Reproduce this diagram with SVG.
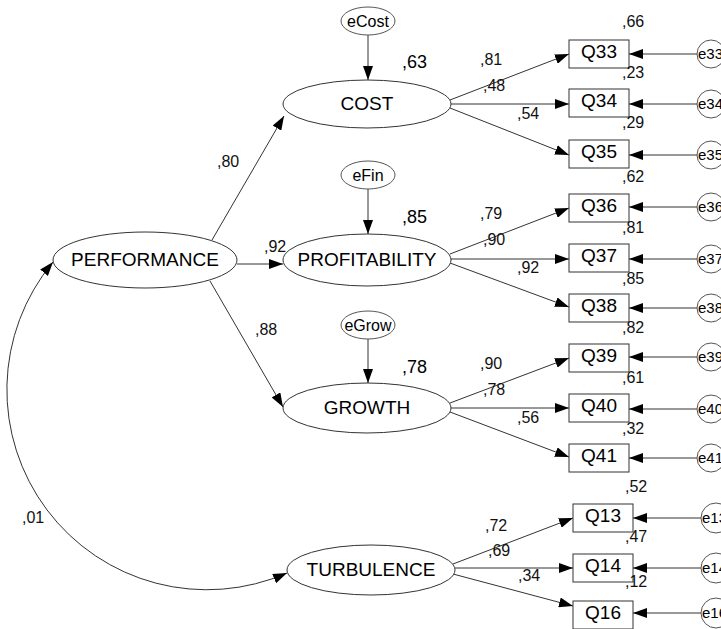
<svg xmlns="http://www.w3.org/2000/svg" width="721" height="629" viewBox="0 0 721 629">
  <style>
    .lat { fill: #fff; stroke: #333; stroke-width: 1; }
    .obs { fill: #fff; stroke: #333; stroke-width: 1; }
    .err { fill: #fff; stroke: #555; stroke-width: 1; }
    .lbl { font-family: "Liberation Sans", Arial, sans-serif; font-size: 19px; fill: #000; text-anchor: middle; }
    .elbl { font-family: "Liberation Sans", Arial, sans-serif; font-size: 16px; fill: #000; text-anchor: middle; }
    .rlbl { font-family: "Liberation Sans", Arial, sans-serif; font-size: 15px; fill: #000; }
    .coef { font-family: "Liberation Sans", Arial, sans-serif; font-size: 16px; fill: #111; }
    .r2 { font-family: "Liberation Sans", Arial, sans-serif; font-size: 18px; fill: #000; }
    .path { fill: none; stroke: #333; stroke-width: 1; marker-end: url(#arr); }
    .cov { fill: none; stroke: #333; stroke-width: 1; marker-start: url(#arr); marker-end: url(#arr); }
  </style>
  <defs>
    <marker id="arr" markerUnits="userSpaceOnUse" markerWidth="14" markerHeight="10" refX="14" refY="5" orient="auto-start-reverse">
      <path d="M0,0 L14,5 L0,10 z" fill="#000"/>
    </marker>
  </defs>
  <rect width="721" height="629" fill="#fff"/>

  <g id="connectors">
    <!-- structural paths -->
    <line class="path" x1="212" y1="240" x2="284" y2="116"/>
    <line class="path" x1="237" y1="264" x2="283" y2="264"/>
    <line class="path" x1="210" y1="281" x2="283" y2="407"/>
    <path class="cov" d="M53,262 A200,200 0 0 0 287,573"/>
    <!-- disturbances -->
    <line class="path" x1="368" y1="35" x2="368" y2="80"/>
    <line class="path" x1="368" y1="189" x2="368" y2="234"/>
    <line class="path" x1="368" y1="339" x2="368" y2="383"/>
    <!-- COST indicators -->
    <line class="path" x1="450" y1="100" x2="569" y2="54"/>
    <line class="path" x1="451" y1="104" x2="569" y2="104"/>
    <line class="path" x1="450" y1="108" x2="569" y2="155"/>
    <!-- PROFITABILITY indicators -->
    <line class="path" x1="450" y1="254" x2="569" y2="208"/>
    <line class="path" x1="451" y1="259" x2="569" y2="259"/>
    <line class="path" x1="450" y1="263" x2="569" y2="307"/>
    <!-- GROWTH indicators -->
    <line class="path" x1="450" y1="403" x2="569" y2="358"/>
    <line class="path" x1="451" y1="408" x2="569" y2="408"/>
    <line class="path" x1="450" y1="412" x2="569" y2="457"/>
    <!-- TURBULENCE indicators -->
    <line class="path" x1="453" y1="564" x2="573" y2="518"/>
    <line class="path" x1="455" y1="568" x2="573" y2="568"/>
    <line class="path" x1="453" y1="574" x2="573" y2="606"/>
    <!-- measurement errors -->
    <line class="path" x1="697" y1="54" x2="629" y2="54"/>
    <line class="path" x1="697" y1="104" x2="629" y2="104"/>
    <line class="path" x1="697" y1="155" x2="629" y2="155"/>
    <line class="path" x1="697" y1="207" x2="629" y2="207"/>
    <line class="path" x1="697" y1="259" x2="629" y2="259"/>
    <line class="path" x1="697" y1="308" x2="629" y2="308"/>
    <line class="path" x1="697" y1="357" x2="629" y2="357"/>
    <line class="path" x1="697" y1="409" x2="629" y2="409"/>
    <line class="path" x1="697" y1="458" x2="629" y2="458"/>
    <line class="path" x1="702" y1="518" x2="633" y2="518"/>
    <line class="path" x1="702" y1="568" x2="633" y2="568"/>
    <line class="path" x1="702" y1="613" x2="633" y2="613"/>
  </g>

  <!-- latent constructs -->
  <g id="PERFORMANCE"><ellipse class="lat" cx="145" cy="260" rx="92" ry="28"/><text class="lbl" x="145" y="266">PERFORMANCE</text></g>
  <g id="COST"><ellipse class="lat" cx="367" cy="104" rx="84" ry="24"/><text class="lbl" x="367" y="110">COST</text></g>
  <g id="PROFITABILITY"><ellipse class="lat" cx="367" cy="260" rx="84" ry="26"/><text class="lbl" x="367" y="266">PROFITABILITY</text></g>
  <g id="GROWTH"><ellipse class="lat" cx="367" cy="408" rx="84" ry="25"/><text class="lbl" x="367" y="414">GROWTH</text></g>
  <g id="TURBULENCE"><ellipse class="lat" cx="371" cy="570" rx="84" ry="25"/><text class="lbl" x="371" y="576">TURBULENCE</text></g>

  <!-- disturbance terms -->
  <g id="eCost"><ellipse class="err" cx="368" cy="21" rx="27" ry="14"/><text class="elbl" x="368" y="27">eCost</text></g>
  <g id="eFin"><ellipse class="err" cx="368" cy="175" rx="27" ry="14"/><text class="elbl" x="368" y="181">eFin</text></g>
  <g id="eGrow"><ellipse class="err" cx="368" cy="325" rx="27" ry="14"/><text class="elbl" x="368" y="331">eGrow</text></g>

  <!-- observed indicators -->
  <g id="Q33"><rect class="obs" x="569" y="40" width="60" height="28"/><text class="lbl" x="599" y="58">Q33</text></g>
  <g id="Q34"><rect class="obs" x="569" y="89" width="60" height="28"/><text class="lbl" x="599" y="107">Q34</text></g>
  <g id="Q35"><rect class="obs" x="569" y="140" width="60" height="28"/><text class="lbl" x="599" y="158">Q35</text></g>
  <g id="Q36"><rect class="obs" x="569" y="194" width="60" height="28"/><text class="lbl" x="599" y="212">Q36</text></g>
  <g id="Q37"><rect class="obs" x="569" y="244" width="60" height="28"/><text class="lbl" x="599" y="262">Q37</text></g>
  <g id="Q38"><rect class="obs" x="569" y="294" width="60" height="28"/><text class="lbl" x="599" y="312">Q38</text></g>
  <g id="Q39"><rect class="obs" x="569" y="344" width="60" height="28"/><text class="lbl" x="599" y="362">Q39</text></g>
  <g id="Q40"><rect class="obs" x="569" y="394" width="60" height="28"/><text class="lbl" x="599" y="412">Q40</text></g>
  <g id="Q41"><rect class="obs" x="569" y="444" width="60" height="28"/><text class="lbl" x="599" y="462">Q41</text></g>
  <g id="Q13"><rect class="obs" x="573" y="504" width="60" height="28"/><text class="lbl" x="603" y="522">Q13</text></g>
  <g id="Q14"><rect class="obs" x="573" y="554" width="60" height="28"/><text class="lbl" x="603" y="572">Q14</text></g>
  <g id="Q16"><rect class="obs" x="573" y="601" width="60" height="28"/><text class="lbl" x="603" y="619">Q16</text></g>

  <!-- measurement error terms -->
  <g id="e33"><circle class="err" cx="711" cy="54" r="14"/><text class="rlbl" x="698" y="59">e33</text></g>
  <g id="e34"><circle class="err" cx="711" cy="104" r="14"/><text class="rlbl" x="698" y="109">e34</text></g>
  <g id="e35"><circle class="err" cx="711" cy="155" r="14"/><text class="rlbl" x="698" y="160">e35</text></g>
  <g id="e36"><circle class="err" cx="711" cy="207" r="14"/><text class="rlbl" x="698" y="212">e36</text></g>
  <g id="e37"><circle class="err" cx="711" cy="259" r="14"/><text class="rlbl" x="698" y="264">e37</text></g>
  <g id="e38"><circle class="err" cx="711" cy="308" r="14"/><text class="rlbl" x="698" y="313">e38</text></g>
  <g id="e39"><circle class="err" cx="711" cy="357" r="14"/><text class="rlbl" x="698" y="362">e39</text></g>
  <g id="e40"><circle class="err" cx="711" cy="409" r="14"/><text class="rlbl" x="698" y="414">e40</text></g>
  <g id="e41"><circle class="err" cx="711" cy="458" r="14"/><text class="rlbl" x="698" y="463">e41</text></g>
  <g id="e13"><circle class="err" cx="716" cy="518" r="15"/><text class="rlbl" x="702" y="523">e13</text></g>
  <g id="e14"><circle class="err" cx="716" cy="568" r="15"/><text class="rlbl" x="702" y="573">e14</text></g>
  <g id="e16"><circle class="err" cx="716" cy="613" r="15"/><text class="rlbl" x="702" y="618">e16</text></g>

  <!-- path coefficients -->
  <g id="coefficients">
    <text class="coef" x="217" y="167">,80</text>
    <text class="coef" x="264" y="252">,92</text>
    <text class="coef" x="255" y="335">,88</text>
    <text class="coef" x="22" y="523">,01</text>
    <text class="coef" x="480" y="65">,81</text>
    <text class="coef" x="483" y="91">,48</text>
    <text class="coef" x="517" y="119">,54</text>
    <text class="coef" x="480" y="219">,79</text>
    <text class="coef" x="483" y="245">,90</text>
    <text class="coef" x="517" y="273">,92</text>
    <text class="coef" x="480" y="369">,90</text>
    <text class="coef" x="483" y="395">,78</text>
    <text class="coef" x="517" y="423">,56</text>
    <text class="coef" x="485" y="531">,72</text>
    <text class="coef" x="488" y="556">,69</text>
    <text class="coef" x="518" y="581">,34</text>
  </g>

  <!-- squared multiple correlations -->
  <g id="r-squared">
    <text class="r2" x="402" y="68">,63</text>
    <text class="r2" x="402" y="223">,85</text>
    <text class="r2" x="402" y="373">,78</text>
    <text class="coef" x="622" y="27">,66</text>
    <text class="coef" x="622" y="78">,23</text>
    <text class="coef" x="622" y="128">,29</text>
    <text class="coef" x="622" y="182">,62</text>
    <text class="coef" x="622" y="233">,81</text>
    <text class="coef" x="622" y="284">,85</text>
    <text class="coef" x="622" y="333">,82</text>
    <text class="coef" x="622" y="383">,61</text>
    <text class="coef" x="622" y="434">,32</text>
    <text class="coef" x="625" y="492">,52</text>
    <text class="coef" x="625" y="542">,47</text>
    <text class="coef" x="625" y="587">,12</text>
  </g>
</svg>
